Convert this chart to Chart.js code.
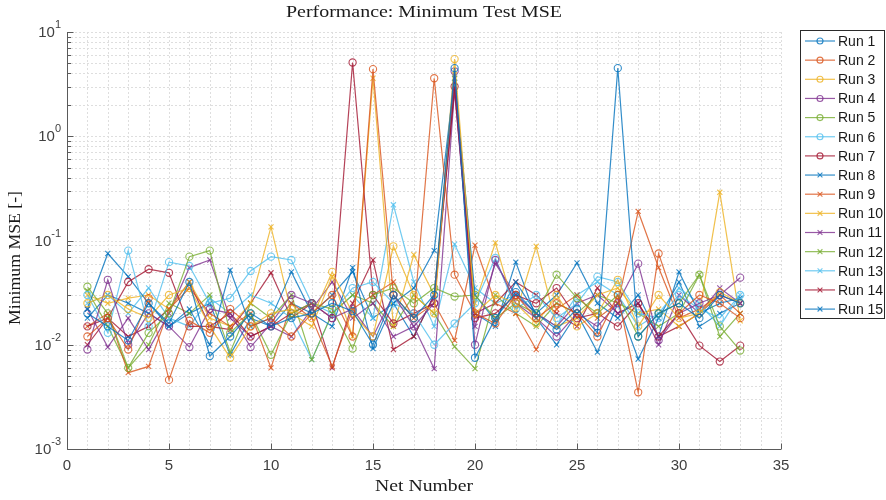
<!DOCTYPE html>
<html>
<head>
<meta charset="utf-8">
<script src="https://cdn.jsdelivr.net/npm/chart.js@4.4.1/dist/chart.umd.min.js"></script>
<style>
  html, body { margin: 0; padding: 0; background: #ffffff; }
  #wrap { position: relative; width: 886px; height: 500px; }
</style>
</head>
<body>
<div id="wrap"><canvas id="chart" width="886" height="500"></canvas></div>
<script>
// Network index on the horizontal axis
const netNumbers = [1, 2, 3, 4, 5, 6, 7, 8, 9, 10, 11, 12, 13, 14, 15, 16, 17,
                    18, 19, 20, 21, 22, 23, 24, 25, 26, 27, 28, 29, 30, 31, 32, 33];

// Minimum test MSE per run
const run1  = [0.020, 0.015, 0.011, 0.025, 0.016, 0.040, 0.0078, 0.012, 0.020, 0.015, 0.018, 0.020, 0.025, 0.021, 0.010, 0.030, 0.018, 0.030, 4.5, 0.0075, 0.018, 0.032, 0.020, 0.014, 0.022, 0.013, 4.5, 0.012, 0.020, 0.025, 0.018, 0.030, 0.025];
const run2  = [0.012, 0.018, 0.009, 0.028, 0.0046, 0.017, 0.013, 0.022, 0.015, 0.018, 0.012, 0.020, 0.030, 0.012, 4.4, 0.030, 0.018, 3.6, 0.047, 0.020, 0.016, 0.030, 0.018, 0.025, 0.020, 0.012, 0.030, 0.0035, 0.075, 0.020, 0.030, 0.025, 0.018];
const run3  = [0.025, 0.030, 0.022, 0.018, 0.030, 0.035, 0.015, 0.0075, 0.015, 0.020, 0.022, 0.018, 0.050, 0.020, 0.012, 0.088, 0.030, 0.020, 5.5, 0.020, 0.030, 0.025, 0.016, 0.030, 0.015, 0.020, 0.042, 0.015, 0.030, 0.018, 0.020, 0.032, 0.025];
const run4  = [0.009, 0.042, 0.010, 0.020, 0.015, 0.0095, 0.022, 0.020, 0.0095, 0.016, 0.030, 0.025, 0.018, 0.022, 0.012, 0.030, 0.015, 0.025, 4.2, 0.010, 0.065, 0.025, 0.018, 0.012, 0.020, 0.015, 0.025, 0.060, 0.011, 0.020, 0.025, 0.030, 0.044];
const run5  = [0.036, 0.020, 0.006, 0.013, 0.020, 0.070, 0.080, 0.013, 0.020, 0.008, 0.020, 0.025, 0.022, 0.0092, 0.030, 0.035, 0.025, 0.035, 0.029, 0.030, 0.018, 0.025, 0.020, 0.047, 0.028, 0.020, 0.030, 0.012, 0.020, 0.025, 0.047, 0.015, 0.0088];
const run6  = [0.030, 0.013, 0.080, 0.015, 0.062, 0.057, 0.025, 0.028, 0.051, 0.070, 0.065, 0.025, 0.020, 0.035, 0.040, 0.025, 0.020, 0.010, 0.016, 0.025, 0.068, 0.022, 0.030, 0.018, 0.025, 0.045, 0.040, 0.020, 0.018, 0.030, 0.022, 0.018, 0.030];
const run7  = [0.015, 0.018, 0.040, 0.053, 0.049, 0.015, 0.015, 0.020, 0.012, 0.015, 0.020, 0.025, 0.018, 5.1, 0.030, 0.016, 0.020, 0.025, 3.0, 0.018, 0.020, 0.030, 0.025, 0.035, 0.018, 0.020, 0.015, 0.025, 0.012, 0.020, 0.0098, 0.0069, 0.0098];
const run8  = [0.022, 0.075, 0.045, 0.025, 0.015, 0.022, 0.010, 0.052, 0.015, 0.018, 0.050, 0.020, 0.015, 0.055, 0.0092, 0.025, 0.035, 0.080, 3.6, 0.030, 0.017, 0.040, 0.020, 0.030, 0.061, 0.025, 0.018, 0.030, 0.012, 0.050, 0.020, 0.025, 0.028];
const run9  = [0.015, 0.020, 0.0054, 0.0062, 0.022, 0.035, 0.020, 0.015, 0.020, 0.006, 0.025, 0.018, 0.0062, 0.022, 0.030, 0.040, 0.018, 0.025, 0.011, 0.090, 0.025, 0.020, 0.009, 0.022, 0.030, 0.018, 0.025, 0.19, 0.055, 0.018, 0.022, 0.030, 0.020];
const run10 = [0.030, 0.025, 0.028, 0.030, 0.022, 0.040, 0.018, 0.015, 0.025, 0.135, 0.020, 0.015, 0.045, 0.012, 3.6, 0.015, 0.073, 0.030, 3.9, 0.025, 0.095, 0.020, 0.088, 0.015, 0.018, 0.030, 0.035, 0.020, 0.022, 0.015, 0.020, 0.29, 0.017];
const run11 = [0.022, 0.0095, 0.018, 0.009, 0.020, 0.055, 0.065, 0.018, 0.012, 0.015, 0.012, 0.022, 0.040, 0.018, 0.025, 0.012, 0.015, 0.0059, 2.8, 0.015, 0.060, 0.030, 0.020, 0.015, 0.025, 0.030, 0.020, 0.025, 0.010, 0.030, 0.020, 0.035, 0.025];
const run12 = [0.033, 0.015, 0.006, 0.010, 0.025, 0.020, 0.030, 0.0085, 0.025, 0.018, 0.030, 0.0072, 0.020, 0.030, 0.025, 0.015, 0.030, 0.020, 0.0096, 0.0059, 0.030, 0.020, 0.015, 0.025, 0.020, 0.030, 0.025, 0.020, 0.015, 0.020, 0.047, 0.012, 0.020];
const run13 = [0.025, 0.030, 0.020, 0.035, 0.018, 0.015, 0.028, 0.020, 0.030, 0.025, 0.018, 0.0072, 0.020, 0.030, 0.018, 0.22, 0.040, 0.015, 0.092, 0.035, 0.025, 0.030, 0.020, 0.015, 0.030, 0.040, 0.030, 0.015, 0.020, 0.035, 0.025, 0.015, 0.030];
const run14 = [0.010, 0.018, 0.012, 0.015, 0.022, 0.040, 0.015, 0.014, 0.025, 0.049, 0.018, 0.025, 0.006, 0.025, 0.065, 0.009, 0.012, 0.030, 2.7, 0.020, 0.025, 0.040, 0.030, 0.020, 0.015, 0.035, 0.020, 0.025, 0.012, 0.015, 0.020, 0.030, 0.025];
const run15 = [0.018, 0.030, 0.025, 0.020, 0.015, 0.020, 0.025, 0.008, 0.018, 0.015, 0.025, 0.020, 0.030, 0.050, 0.018, 0.025, 0.012, 0.030, 3.3, 0.020, 0.015, 0.062, 0.018, 0.010, 0.020, 0.0085, 0.025, 0.0073, 0.018, 0.040, 0.015, 0.020, 0.025];

const runLabels = ['Run 1', 'Run 2', 'Run 3', 'Run 4', 'Run 5', 'Run 6', 'Run 7', 'Run 8',
                   'Run 9', 'Run 10', 'Run 11', 'Run 12', 'Run 13', 'Run 14', 'Run 15'];
const runValues = [run1, run2, run3, run4, run5, run6, run7, run8, run9, run10, run11, run12, run13, run14, run15];

// Tick labels
const xTickValues = [0, 5, 10, 15, 20, 25, 30, 35];
const yDecadeExponents = [1, 0, -1, -2, -3];

// Colour cycle (7 colours), first 7 runs drawn with circles, the rest with crosses
const palette = ['#0072BD', '#D95319', '#EDB120', '#7E2F8E', '#77AC30', '#4DBEEE', '#A2142F'];

function withAlpha(hex, a) {
  const n = parseInt(hex.slice(1), 16);
  return `rgba(${(n >> 16) & 255}, ${(n >> 8) & 255}, ${n & 255}, ${a})`;
}

const datasets = runValues.map((vals, i) => {
  const col = withAlpha(palette[i % palette.length], 0.8);
  const marker = i < 7 ? 'circle' : 'crossRot';
  return {
    label: runLabels[i],
    data: vals.map((v, k) => ({ x: netNumbers[k], y: v })),
    borderColor: col,
    backgroundColor: 'rgba(0,0,0,0)',
    pointBorderColor: col,
    pointBackgroundColor: 'rgba(0,0,0,0)',
    pointStyle: marker,
    pointRadius: 3.6,
    pointBorderWidth: 1.1,
    borderWidth: 1.2,
    tension: 0,
    _marker: marker,
    _color: col
  };
});

const SANS = '"Liberation Sans", Arial, Helvetica, sans-serif';
const SERIF = '"Liberation Serif", "DejaVu Serif", serif';

function drawMarker(ctx, style, x, y, r) {
  ctx.beginPath();
  if (style === 'circle') {
    ctx.arc(x, y, r, 0, Math.PI * 2);
  } else {
    const d = r * 0.8;
    ctx.moveTo(x - d, y - d); ctx.lineTo(x + d, y + d);
    ctx.moveTo(x - d, y + d); ctx.lineTo(x + d, y - d);
  }
  ctx.stroke();
}

// serif text stretched to a given width (wide TeX-like face)
function drawWideText(ctx, text, cx, cy, size, width, rotate) {
  ctx.save();
  ctx.font = `${size}px ${SERIF}`;
  const w = ctx.measureText(text).width;
  ctx.translate(cx, cy);
  if (rotate) ctx.rotate(-Math.PI / 2);
  ctx.scale(width / w, 1);
  ctx.textAlign = 'center';
  ctx.textBaseline = 'middle';
  ctx.fillText(text, 0, 0);
  ctx.restore();
}

const axesDecor = {
  id: 'axesDecor',
  beforeDatasetsDraw(chart) {
    const { ctx, chartArea: a, scales: { x, y } } = chart;
    ctx.save();
    ctx.strokeStyle = '#dedede';
    ctx.lineWidth = 1;
    ctx.setLineDash([2, 2]);
    ctx.beginPath();
    for (let i = 0; i <= 35; i++) {
      const px = Math.round(x.getPixelForValue(i)) + 0.5;
      ctx.moveTo(px, a.top); ctx.lineTo(px, a.bottom);
    }
    for (let d = -3; d <= 1; d++) {
      for (let m = 1; m <= 9; m++) {
        const v = m * Math.pow(10, d);
        if (v > 10.0001) break;
        const py = Math.round(y.getPixelForValue(v)) + 0.5;
        ctx.moveTo(a.left, py); ctx.lineTo(a.right, py);
      }
    }
    ctx.stroke();
    ctx.restore();
  },
  afterDraw(chart) {
    const { ctx, chartArea: a, scales: { x, y } } = chart;
    ctx.save();
    // axis lines
    ctx.setLineDash([]);
    ctx.strokeStyle = '#5a5a5a';
    ctx.lineWidth = 1;
    const L = Math.round(a.left) + 0.5, B = Math.round(a.bottom) + 0.5;
    ctx.beginPath();
    ctx.moveTo(L, a.top); ctx.lineTo(L, B); ctx.lineTo(a.right, B);
    // y ticks (inside)
    for (let d = -3; d <= 1; d++) {
      for (let m = 1; m <= 9; m++) {
        const v = m * Math.pow(10, d);
        if (v > 10.0001) break;
        const py = Math.round(y.getPixelForValue(v)) + 0.5;
        const len = m === 1 ? 6 : 3.5;
        ctx.moveTo(L, py); ctx.lineTo(L + len, py);
      }
    }
    // x ticks (inside)
    xTickValues.forEach(t => {
      const px = Math.round(x.getPixelForValue(t)) + 0.5;
      ctx.moveTo(px, B); ctx.lineTo(px, B - 6);
    });
    ctx.stroke();

    // y tick labels as powers of ten
    ctx.fillStyle = '#404040';
    ctx.textBaseline = 'middle';
    yDecadeExponents.forEach(e => {
      const py = y.getPixelForValue(Math.pow(10, e));
      const expText = e < 0 ? '-' + Math.abs(e) : String(e);
      ctx.font = `11px ${SANS}`;
      const ew = ctx.measureText(expText).width;
      const right = a.left - 6;
      ctx.textAlign = 'left';
      ctx.fillText(expText, right - ew, py - 7);
      ctx.font = `15px ${SANS}`;
      ctx.textAlign = 'right';
      ctx.fillText('10', right - ew, py + 1);
    });

    // titles
    ctx.fillStyle = '#1a1a1a';
    const midX = (a.left + a.right) / 2;
    drawWideText(ctx, 'Performance: Minimum Test MSE', midX, 13, 17, 276, false);
    drawWideText(ctx, 'Net Number', midX, 487, 17, 98, false);
    drawWideText(ctx, 'Minimum MSE [-]', 16, 258, 17, 134, true);

    // legend
    const lx = 800.5, ly = 30.5, lw = 84, lh = 288;
    ctx.fillStyle = '#ffffff';
    ctx.fillRect(lx, ly, lw, lh);
    ctx.strokeStyle = '#2b2b2b';
    ctx.lineWidth = 1;
    ctx.strokeRect(lx, ly, lw, lh);
    chart.data.datasets.forEach((ds, i) => {
      const cy = 41 + i * 19.15;
      ctx.strokeStyle = ds._color;
      ctx.lineWidth = 1.2;
      ctx.beginPath();
      ctx.moveTo(805, cy); ctx.lineTo(835, cy);
      ctx.stroke();
      ctx.lineWidth = 1.1;
      drawMarker(ctx, ds._marker, 820, cy, 3);
      ctx.fillStyle = '#1a1a1a';
      ctx.font = `14px ${SANS}`;
      ctx.textAlign = 'left';
      ctx.textBaseline = 'middle';
      ctx.fillText(ds.label, 838, cy + 1);
    });
    ctx.restore();
  }
};

new Chart(document.getElementById('chart'), {
  type: 'line',
  data: { datasets },
  options: {
    responsive: false,
    animation: false,
    layout: { padding: { top: 32, right: 105, bottom: 0, left: 0 } },
    plugins: {
      legend: { display: false },
      title: { display: false },
      tooltip: { enabled: false }
    },
    scales: {
      x: {
        type: 'linear',
        min: 0,
        max: 35,
        afterFit(scale) { scale.height = 51; },
        afterBuildTicks(scale) { scale.ticks = xTickValues.map(v => ({ value: v })); },
        grid: { display: false, drawTicks: false },
        border: { display: false },
        ticks: { color: '#404040', font: { family: SANS, size: 15 }, padding: 8 },
        title: { display: false }
      },
      y: {
        type: 'logarithmic',
        min: 0.001,
        max: 10,
        afterFit(scale) { scale.width = 67; },
        grid: { display: false, drawTicks: false },
        border: { display: false },
        ticks: { display: false },
        title: { display: false }
      }
    }
  },
  plugins: [axesDecor]
});
</script>
</body>
</html>
